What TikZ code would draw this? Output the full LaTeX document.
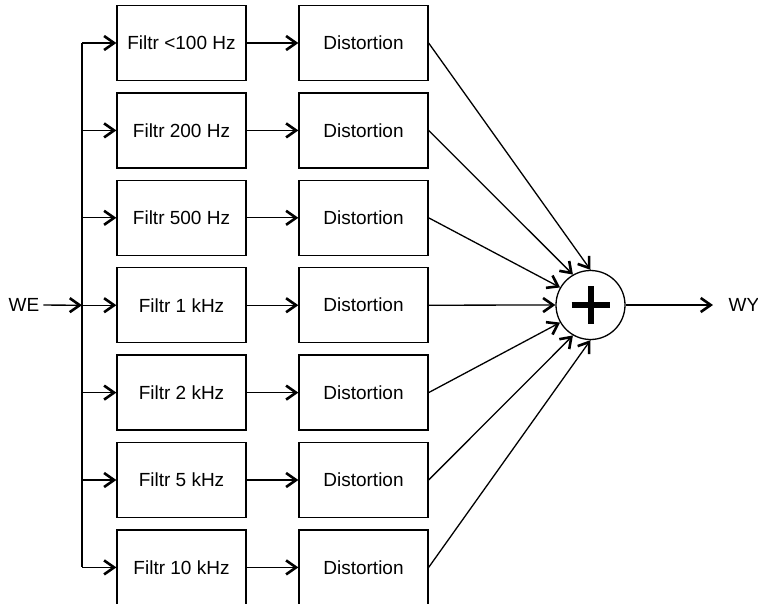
\documentclass[tikz,border=0pt]{standalone}
\usepackage{fontspec}
\setmainfont{Liberation Sans}
\usetikzlibrary{arrows.meta}

\begin{document}
\begin{tikzpicture}[x=1pt,y=-1pt,line width=1.3pt,
    >={Straight Barb[length=10pt,width=14pt,line width=2.6pt]},
    font=\fontsize{19}{23}\selectfont,
    blk/.style={draw,minimum width=129pt,minimum height=75pt,inner sep=0pt},
    summer/.style={draw,circle,minimum size=69pt,inner sep=0pt}]
  \useasboundingbox (0,0) rectangle (758,603);
  % filter bank
  \foreach \lab [count=\i] in {<100 Hz,200 Hz,500 Hz,1 kHz,2 kHz,5 kHz,10 kHz} {
    \pgfmathsetmacro{\yy}{43+87.4*(\i-1)}
    \coordinate (b\i) at (82,\yy);
    \node[blk] (f\i) at (181.5,\yy) {Filtr \lab};
    \node[blk] (d\i) at (363.5,\yy) {Distortion};
  }
  \node[summer] (sum) at (590.5,305) {};
  \draw[line width=6pt] (571.5,305) -- (609.5,305) (590.5,286) -- (590.5,324);
  \node (we) at (24,305) {WE};
  \node[anchor=west,inner xsep=15pt] (wy) at (713,305) {WY};
  % connections
  \draw (b1) -- (b7);
  \draw[->] (we) -- (b4);
  \foreach \i in {1,...,7} {
    \pgfmathtruncatemacro{\ang}{60+30*\i}
    \draw[->] (b\i) -- (f\i);
    \draw[->] (f\i) -- (d\i);
    \draw[->] (d\i.east) -- (sum.\ang);
  }
  \draw[->] (sum) -- (wy);
\end{tikzpicture}
\end{document}
